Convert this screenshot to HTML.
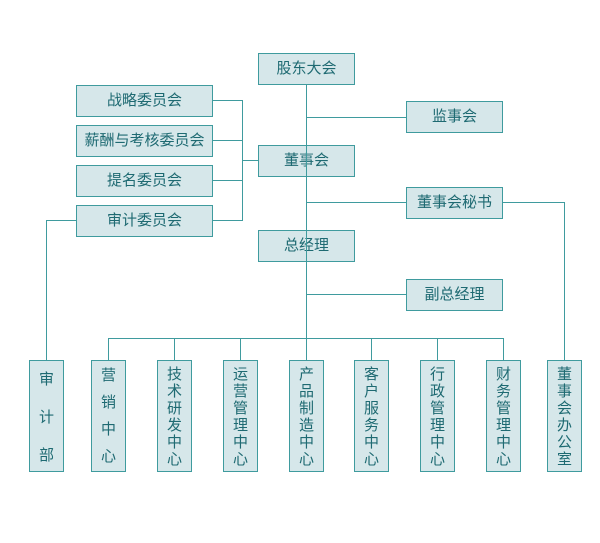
<!DOCTYPE html>
<html><head><meta charset="utf-8"><style>
body{margin:0;width:600px;height:543px;background:#fff;position:relative;overflow:hidden;font-family:"Liberation Sans","Noto Sans CJK SC",sans-serif;}
.b{position:absolute;background:#d6e7ea;border:1px solid #3f9b9e;box-sizing:border-box;color:#1e6a72;font-size:15px;text-align:center;}
.h{height:32px;line-height:30px;}
.v{top:360px;width:35px;height:112px;line-height:17px;padding-top:5px;}
.l{position:absolute;background:#3f9b9e;}
</style></head><body>
<div class="b h" style="left:258px;top:53px;width:97px">股东大会</div>
<div class="b h" style="left:406px;top:101px;width:97px">监事会</div>
<div class="b h" style="left:258px;top:145px;width:97px">董事会</div>
<div class="b h" style="left:406px;top:187px;width:97px">董事会秘书</div>
<div class="b h" style="left:258px;top:230px;width:97px">总经理</div>
<div class="b h" style="left:406px;top:279px;width:97px">副总经理</div>
<div class="b h" style="left:76px;top:85px;width:137px">战略委员会</div>
<div class="b h" style="left:76px;top:125px;width:137px">薪酬与考核委员会</div>
<div class="b h" style="left:76px;top:165px;width:137px">提名委员会</div>
<div class="b h" style="left:76px;top:205px;width:137px">审计委员会</div>

<div class="l" style="left:306px;top:84px;width:1px;height:276px"></div>
<div class="l" style="left:306px;top:117px;width:100px;height:1px"></div>
<div class="l" style="left:306px;top:202px;width:100px;height:1px"></div>
<div class="l" style="left:306px;top:294px;width:100px;height:1px"></div>
<div class="l" style="left:502px;top:202px;width:63px;height:1px"></div>
<div class="l" style="left:564px;top:202px;width:1px;height:158px"></div>
<div class="l" style="left:212px;top:100px;width:30px;height:1px"></div>
<div class="l" style="left:212px;top:140px;width:30px;height:1px"></div>
<div class="l" style="left:212px;top:180px;width:30px;height:1px"></div>
<div class="l" style="left:212px;top:220px;width:30px;height:1px"></div>
<div class="l" style="left:242px;top:100px;width:1px;height:121px"></div>
<div class="l" style="left:242px;top:160px;width:16px;height:1px"></div>
<div class="l" style="left:46px;top:220px;width:30px;height:1px"></div>
<div class="l" style="left:46px;top:220px;width:1px;height:140px"></div>
<div class="l" style="left:108px;top:338px;width:396px;height:1px"></div>
<div class="l" style="left:108px;top:338px;width:1px;height:22px"></div>
<div class="l" style="left:174px;top:338px;width:1px;height:22px"></div>
<div class="l" style="left:240px;top:338px;width:1px;height:22px"></div>
<div class="l" style="left:371px;top:338px;width:1px;height:22px"></div>
<div class="l" style="left:437px;top:338px;width:1px;height:22px"></div>
<div class="l" style="left:503px;top:338px;width:1px;height:22px"></div>

<div class="b v" style="left:29px;line-height:38px;padding-top:-2px;padding-top:0">审<br>计<br>部</div>
<div class="b v" style="left:91px;line-height:27px;padding-top:1px">营<br>销<br>中<br>心</div>
<div class="b v" style="left:157px">技<br>术<br>研<br>发<br>中<br>心</div>
<div class="b v" style="left:223px">运<br>营<br>管<br>理<br>中<br>心</div>
<div class="b v" style="left:289px">产<br>品<br>制<br>造<br>中<br>心</div>
<div class="b v" style="left:354px">客<br>户<br>服<br>务<br>中<br>心</div>
<div class="b v" style="left:420px">行<br>政<br>管<br>理<br>中<br>心</div>
<div class="b v" style="left:486px">财<br>务<br>管<br>理<br>中<br>心</div>
<div class="b v" style="left:547px">董<br>事<br>会<br>办<br>公<br>室</div>
</body></html>
